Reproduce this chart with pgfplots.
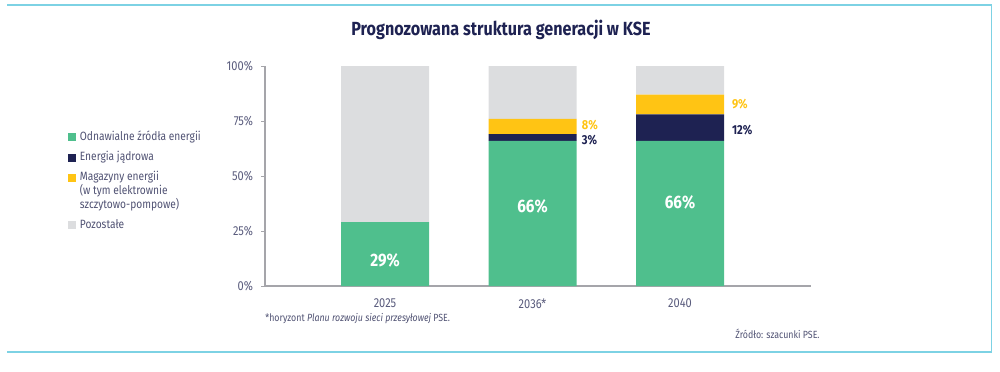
\documentclass[border=0pt]{standalone}
\usepackage{pgfplots}
\pgfplotsset{compat=1.18}
\usepackage{fontspec}
\setmainfont{Fira Sans}[FakeStretch=0.85]
\definecolor{cgreen}{RGB}{79,191,141}
\definecolor{cnavy}{RGB}{30,34,82}
\definecolor{cyellow}{RGB}{255,196,20}
\definecolor{cgray}{RGB}{220,221,223}
\definecolor{ctick}{RGB}{90,92,125}
\definecolor{clegend}{RGB}{80,82,115}
\definecolor{caxis}{RGB}{165,165,170}
\definecolor{ccyan}{RGB}{125,210,228}
\pgfplotsset{raisedlegend/.style={legend image code/.code={\fill[##1] (0pt,4.85pt) rectangle (4pt,8.85pt);}}}
\begin{document}
\begin{tikzpicture}
\path[use as bounding box] (0,0) rectangle (500pt,185.5pt);
\draw[ccyan, line width=0.9pt] (3.7pt,183.2pt) -- (495.8pt,183.2pt);
\draw[ccyan, line width=0.9pt] (3.7pt,9.7pt) -- (495.8pt,9.7pt);
\draw[ccyan, line width=0.7pt] (495.8pt,183.2pt) -- (495.8pt,9.7pt);
\node[font=\bfseries\fontsize{9.5}{11}\selectfont, text=cnavy] at (250.5pt,170.5pt) {Prognozowana struktura generacji w KSE};
\begin{axis}[
  at={(132.5pt,42.5pt)}, anchor=south west,
  scale only axis, width=273pt, height=110pt,
  ybar stacked, bar width=44pt,
  xmin=-0.8136, xmax=2.888, ymin=0, ymax=100,
  axis x line=bottom, axis y line=left,
  axis line style={-, caxis, line width=0.6pt},
  xtick={0,1,2}, xticklabels={2025,2036*,2040},
  x tick style={draw=none},
  ytick={0,25,50,75,100},
  yticklabel={\pgfmathprintnumber{\tick}\%},
  /pgf/number format/assume math mode=true,
  y tick style={caxis, line width=0.5pt},
  major tick length=2pt,
  tick align=outside,
  ticklabel style={font=\fontsize{6.5}{7.5}\selectfont, text=ctick},
  xticklabel style={yshift=-1pt},
  yticklabel style={xshift=-0.5pt},
  legend cell align=left,
  legend style={at={(axis description cs:-0.372,0.732)}, anchor=north west, draw=none, fill=none,
    font=\fontsize{6}{6.85}\selectfont, text=clegend,
    nodes={align=left, inner sep=0.8pt}, row sep=2.3pt},
  legend image code/.code={\fill[#1] (0pt,-2pt) rectangle (4pt,2pt);},
]
\addplot[fill=cgreen, draw=none] coordinates {(0,29) (1,66) (2,66)};
\addplot[fill=cnavy, draw=none] coordinates {(0,0) (1,3) (2,12)};
\addplot[fill=cyellow, draw=none, raisedlegend] coordinates {(0,0) (1,7) (2,9)};
\addplot[fill=cgray, draw=none] coordinates {(0,71) (1,24) (2,13)};
\legend{\hspace{1pt}Odnawialne źródła energii, \hspace{1pt}Energia jądrowa, {\hspace{1pt}Magazyny energii\\\hspace{1pt}(w tym elektrownie\\\hspace{1pt}szczytowo-pompowe)}, \hspace{1pt}Pozostałe}
\coordinate (g0) at (axis cs:0,11.5);
\coordinate (g1) at (axis cs:1,36.3);
\coordinate (g2) at (axis cs:2,37.8);
\coordinate (y1) at (axis cs:1.332,73.1);
\coordinate (n1) at (axis cs:1.332,66.4);
\coordinate (y2) at (axis cs:2.35,82.7);
\coordinate (n2) at (axis cs:2.35,71);
\end{axis}
\node[text=white, font=\bfseries\fontsize{9}{10}\selectfont] at (g0) {29\%};
\node[text=white, font=\bfseries\fontsize{9}{10}\selectfont] at (g1) {66\%};
\node[text=white, font=\bfseries\fontsize{9}{10}\selectfont] at (g2) {66\%};
\node[anchor=west, inner sep=0pt, text=cyellow, font=\bfseries\fontsize{6.5}{7.5}\selectfont] at (y1) {8\%};
\node[anchor=west, inner sep=0pt, text=cnavy, font=\bfseries\fontsize{6.5}{7.5}\selectfont] at (n1) {3\%};
\node[anchor=west, inner sep=0pt, text=cyellow, font=\bfseries\fontsize{6.5}{7.5}\selectfont] at (y2) {9\%};
\node[anchor=west, inner sep=0pt, text=cnavy, font=\bfseries\fontsize{6.5}{7.5}\selectfont] at (n2) {12\%};
\node[anchor=base west, inner sep=0pt, text=clegend, font=\fontsize{5.2}{6}\selectfont] at (132.5pt,24.8pt) {*horyzont \textit{Planu rozwoju sieci przesyłowej} PSE.};
\node[anchor=base east, inner sep=0pt, text=clegend, font=\fontsize{5.2}{6}\selectfont] at (410pt,16.2pt) {Źródło: szacunki PSE.};
\end{tikzpicture}
\end{document}
